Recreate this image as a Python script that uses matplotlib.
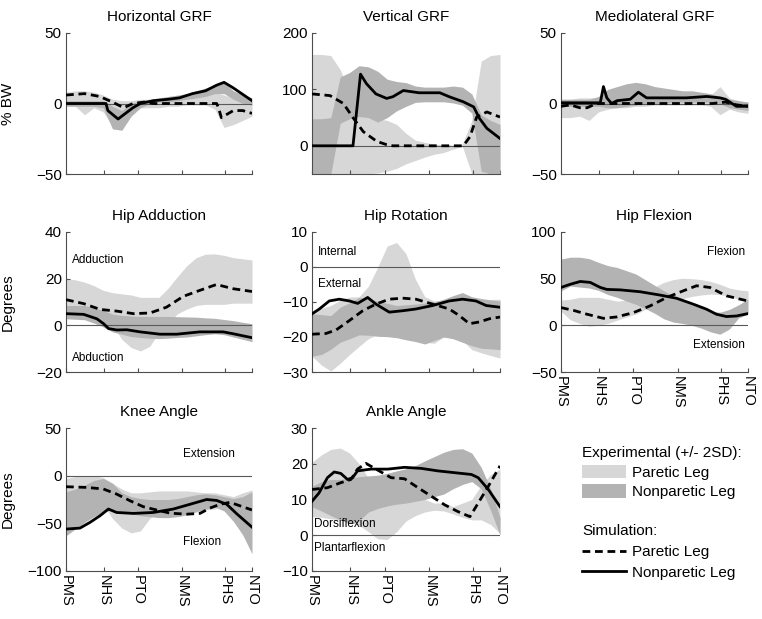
import numpy as np
import matplotlib
matplotlib.use('Agg')
import matplotlib.pyplot as plt
from matplotlib.patches import Patch
from matplotlib.lines import Line2D

plt.rcParams['font.family'] = ['Liberation Sans', 'DejaVu Sans']
plt.rcParams['font.size'] = 11

# gait events on the x axis (% of cycle)
event_pos = [0, 20.4, 38.7, 62.4, 85.6, 100]
event_labels = ['PMS', 'NHS', 'PTO', 'NMS', 'PHS', 'NTO']

# common grid for the experimental bands
pct = [0, 5, 10, 15, 20, 25, 30, 35, 40, 45, 50, 55, 60, 65, 70, 75, 80, 85, 90, 95, 100]

# ---- Horizontal GRF ----
hgrf_par_hi = [8, 9, 9, 8, 6, 3, 2, 2, 3, 3, 3, 3, 4, 5, 6, 8, 8, 6, 4, 3, 0]
hgrf_par_lo = [-1, -2, -8, -3, -6, -16, -14, -7, -3, -3, -3, -2, -2, -1, -1, -1, -4, -17, -15, -12, -9]
hgrf_non_hi = [2, 2, 2, 2, 2, -2, -5, 0, 2, 3, 4, 5, 6, 7, 9, 11, 13, 15, 9, 6, 4]
hgrf_non_lo = [-2, -2, -2, -2, -3, -18, -19, -9, -3, 0, 1, 1, 2, 3, 4, 5, 7, 7, 3, 0, -1]
hgrf_sim_par_x = [0, 10, 18, 25, 31, 36, 42, 47, 81, 82, 83.5, 90, 95, 100]
hgrf_sim_par = [6, 7, 5, 1, -3, 0, 1, 0, 0, -3, -10, -5, -5, -7]
hgrf_sim_non_x = [0, 21.5, 22.5, 28, 36, 40, 47, 55, 61, 68, 75, 81, 85, 90, 100]
hgrf_sim_non = [0, 0, -5, -11, -3, 0, 2, 3, 4, 7, 9, 13, 15, 11, 2]

# ---- Vertical GRF ----
vgrf_par_hi = [162, 162, 160, 135, 95, 75, 60, 48, 45, 38, 22, 10, 6, 3, 2, 1, 3, 45, 150, 160, 162]
vgrf_par_lo = [-50, -50, -50, -50, -50, -50, -50, -48, -45, -40, -32, -26, -20, -15, -12, -6, -1, -50, -50, -50, -50]
vgrf_non_hi = [48, 48, 50, 122, 130, 142, 140, 132, 118, 114, 112, 106, 104, 104, 104, 106, 104, 92, 55, 45, 38]
vgrf_non_lo = [-50, -50, -50, 40, 48, 52, 50, 42, 50, 62, 70, 77, 78, 78, 78, 76, 72, 58, -45, -50, -50]
vgrf_sim_par_x = [0, 9.6, 16.7, 22, 27.3, 34.4, 39.7, 43, 80.5, 84, 87.6, 93, 100]
vgrf_sim_par = [92, 89, 75, 49, 25, 8, 2, 0, 0, 16, 51, 60, 51]
vgrf_sim_non_x = [0, 21.8, 25.8, 29, 34, 39.7, 43, 48.6, 57, 68, 73, 80.5, 86, 89, 93, 100]
vgrf_sim_non = [0, 0, 127, 110, 92, 84, 87, 98, 94, 94, 87, 78, 69, 49, 31, 13]

# ---- Mediolateral GRF ----
mgrf_par_hi = [3, 3, 4, 4, 4, 4, 5, 7, 8, 8, 7, 6, 6, 6, 6, 6, 6, 12, 4, 2, 1]
mgrf_par_lo = [-10, -10, -9, -12, -6, -4, -3, -3, -2, -2, -1, -1, -1, -1, -1, -1, -2, -8, -4, -6, -7]
mgrf_non_hi = [3, 3, 3, 3, 5, 10, 12, 14, 15, 14, 12, 11, 10, 9, 9, 8, 7, 5, 3, 2, 1]
mgrf_non_lo = [-2, -2, -2, -2, -2, -3, -3, -2, -1, 0, 0, 0, 1, 1, 1, 1, 1, 0, -3, -4, -5]
mgrf_sim_par_x = [0, 5, 10, 14, 19, 81, 88, 94, 100]
mgrf_sim_par = [-2, -1, -3, -3, 0, 0, 1, -1, -2]
mgrf_sim_non_x = [0, 21, 22.7, 24.5, 27, 30, 37, 41.4, 45.8, 67, 78, 85, 88, 93.8, 100]
mgrf_sim_non = [0.5, 0.5, 12, 4, 0, 2, 3, 8, 4, 4, 5, 4, 3, -2, -2]

# ---- Hip Adduction ----
hadd_par_hi = [20, 19.5, 18.5, 17, 15, 14, 13.5, 13, 12, 12, 12, 16, 21, 25.6, 29, 30.5, 30.6, 30, 29, 28.5, 28]
hadd_par_lo = [5, 5, 6, 7, 5, 0, -6, -9.5, -11, -9, -3, 1, 5, 7, 8.5, 9, 9, 9, 9.5, 9.5, 9.5]
hadd_non_hi = [8.5, 8.5, 8.5, 7.5, 6.4, 4.8, 4.3, 4, 3.8, 3.8, 3.8, 3.8, 3.7, 3.6, 3.5, 3.2, 3, 2.5, 2, 1.3, 0.7]
hadd_non_lo = [2.8, 2.6, 2.4, 1, -0.7, -2.8, -3.8, -4.8, -5.2, -5.5, -5.7, -5.5, -5.2, -5, -4.5, -4, -3.6, -4, -5, -6, -7]
hadd_sim_par_x = [0, 9.5, 18.4, 27.3, 36.3, 45.2, 54.1, 63, 72, 80.9, 89.8, 100]
hadd_sim_par = [11, 9.3, 6.8, 6.1, 5, 5.3, 7.8, 12.4, 15, 17.5, 15.7, 14.5]
hadd_sim_non_x = [0, 9.5, 16.6, 20.2, 22.9, 27.3, 32.7, 39.8, 50.5, 59.5, 71.9, 84.5, 89.8, 100]
hadd_sim_non = [5, 4.7, 2.8, 0.7, -1.4, -2, -1.9, -2.8, -3.8, -3.8, -2.8, -2.8, -3.6, -5.3]

# ---- Hip Rotation ----
hrot_par_hi = [-12.5, -11.8, -11, -9.5, -8.6, -8.5, -5.5, 0, 6, 7, 3.8, -3.5, -8.5, -9.7, -9.5, -9, -7.8, -9, -9.5, -9.3, -9.2]
hrot_par_lo = [-25.5, -28, -29.7, -27.5, -25, -22.7, -20.5, -19.2, -19, -19.5, -20, -20.8, -21.5, -21.8, -20, -20, -21, -23.6, -24.5, -25.3, -26]
hrot_non_hi = [-13.4, -13.6, -13.9, -11.5, -10.2, -8.7, -9, -9.8, -10.4, -11, -10.8, -10.6, -10.3, -10, -9.2, -8.2, -7.3, -8.5, -9, -9.4, -9.7]
hrot_non_lo = [-25.5, -25, -23.5, -21.5, -20.5, -19.4, -19.5, -19.8, -19.9, -20.2, -20.8, -21.3, -22, -21, -20, -20.5, -21.5, -22.5, -23.2, -23.4, -23.6]
hrot_sim_par_x = [0, 7.4, 12.8, 19.9, 27, 34, 41.1, 48.2, 55.3, 64.2, 73, 78.4, 83.7, 89, 94.3, 100]
hrot_sim_par = [-19.2, -19, -18, -15.3, -12.5, -10.6, -9.2, -8.9, -9.2, -10.6, -12, -13.9, -16.2, -15.7, -14.8, -14.3]
hrot_sim_non_x = [0, 3.9, 9.2, 14.5, 19.9, 24.3, 29.6, 34, 41.1, 48.2, 55.3, 64.2, 73, 80.1, 87.2, 92.6, 100]
hrot_sim_non = [-13.4, -12, -9.7, -9.2, -9.7, -10.4, -8.7, -10.6, -12.9, -12.5, -12, -11, -9.7, -9.2, -9.7, -11, -11.5]

# ---- Hip Flexion ----
hflx_par_hi = [27, 28, 30, 30, 30, 28, 26, 27, 30, 35, 41, 46, 49, 50.5, 50, 49, 47, 44, 40, 38, 37]
hflx_par_lo = [15, 6, 2, -1, 0, 2, 5.5, 9, 12, 17, 20, 24, 26, 28.5, 31, 32.5, 33.5, 33, 31, 28, 26]
hflx_non_hi = [71, 73, 73, 71.5, 67.5, 64, 62, 58.5, 55, 49, 43, 37, 32, 26, 22, 19, 15, 14, 17, 22, 28]
hflx_non_lo = [37, 42, 41, 40, 37.5, 33, 30, 26, 22.5, 18, 13, 7, 3.5, 2, 0, -3, -7, -9.5, -4, 8, 12]
hflx_sim_par_x = [0, 6.7, 13.9, 22.7, 29.8, 38.7, 47.6, 56.5, 65.4, 72.5, 79.6, 88.5, 100]
hflx_sim_par = [19, 16, 11.9, 7.5, 9, 13.6, 20.8, 29.8, 37, 42.4, 40.6, 31.6, 26]
hflx_sim_non_x = [0, 5, 10.3, 15.6, 21, 24.5, 31.6, 42.3, 53, 61.8, 70.7, 77.8, 83.1, 88.5, 93.8, 100]
hflx_sim_non = [40.6, 44, 47, 46, 40.6, 38.5, 38, 36, 32.4, 29, 22.7, 17.3, 11.9, 9.4, 10, 12.6]

# ---- Knee Angle ----
knee_par_hi = [-3, -1, 0, 0, -2, -8, -14, -18, -18, -17, -16, -16, -16, -16, -17, -18, -18, -20, -22, -18, -15]
knee_par_lo = [-20, -20, -20, -22, -30, -45, -55, -60, -58, -45, -36, -33, -33, -34, -35, -36, -35, -32, -30, -32, -35]
knee_non_hi = [-17, -14, -10, -5, -3, -8, -18, -22, -24, -25, -25, -25, -24, -22, -20, -19, -20, -22, -24, -22, -17]
knee_non_lo = [-63, -56, -49, -43, -38, -36, -38, -40, -42, -43, -44, -44, -43, -41, -38, -35, -33, -37, -48, -62, -82]
knee_sim_par_x = [0, 11.1, 20.1, 27.2, 34.4, 41.6, 48.7, 55.9, 64.9, 72, 77.4, 82.8, 88.2, 93.5, 100]
knee_sim_par = [-11.6, -12.3, -14, -19.3, -26.3, -32.6, -36, -39.3, -40.4, -39.6, -34, -30, -28, -31.6, -36]
knee_sim_non_x = [0, 7.5, 12.9, 18.3, 22.8, 27.2, 36.2, 46.9, 57.7, 66.7, 75.6, 81, 86.4, 91.8, 100]
knee_sim_non = [-56, -55, -49, -42, -35, -38.6, -39.6, -38.6, -35, -30, -25, -26, -30, -40, -54]

# ---- Ankle Angle ----
ank_par_hi = [20.4, 22.5, 24, 24.4, 23, 20, 16, 15, 14, 13, 12, 11, 10, 9, 9, 8, 9, 10, 14, 17, 18.5]
ank_par_lo = [5.2, 5, 4.6, 4.3, 3.6, 2.8, 1, -1, -1.2, 1, 4, 5.5, 6.5, 7, 6.8, 6, 5, 4.3, 4.3, 3, 0.5]
ank_non_hi = [13.7, 15, 15.6, 15.6, 16, 16.4, 16.6, 16.8, 17.3, 18, 18.6, 19.5, 20.8, 22, 23.2, 24, 24.2, 23, 19, 13, 5]
ank_non_lo = [8, 6.8, 5.5, 4.3, 3.3, 4, 6.5, 7.5, 8.2, 8.7, 9, 9.5, 10, 10.8, 11.5, 13, 14.2, 15, 13, 7, 0]
ank_sim_par_x = [0, 8.2, 15.3, 20.7, 24.2, 28.7, 36.7, 42.1, 49.2, 56.4, 63.5, 70.6, 77.7, 84, 88.4, 93.8, 100]
ank_sim_par = [12.8, 13.3, 14.7, 15.6, 18.5, 20.1, 17.7, 16.1, 15.8, 13.3, 10.9, 8.5, 6.6, 5.2, 9, 13.7, 19.4]
ank_sim_non_x = [0, 3.7, 8.2, 11.8, 15.3, 18.9, 21.6, 24.2, 31.4, 40.3, 49.2, 58.1, 67, 75.9, 84.8, 88.4, 93.8, 100]
ank_sim_non = [9.5, 11.8, 16.1, 17.7, 17.3, 15.6, 16.1, 18, 18.5, 18.5, 19, 18.7, 18, 17.5, 17, 16.1, 12.8, 8]

LIGHT = '#d7d7d7'
DARK = '#b3b3b3'
DASH = (0, (2.8, 1.7))

W, H = 762, 619
fig = plt.figure(figsize=(W / 100, H / 100), dpi=100)


def px_rect(x0, x1, y0, y1):
    return [x0 / W, 1 - y1 / H, (x1 - x0) / W, (y1 - y0) / H]


cols = [(66, 252), (312, 500), (561, 748)]
rows = [(33, 174), (232, 372), (428, 571)]

panels = [
    ('Horizontal GRF', (-50, 50), [-50, 0, 50], '% BW',
     hgrf_par_hi, hgrf_par_lo, hgrf_non_hi, hgrf_non_lo,
     hgrf_sim_par_x, hgrf_sim_par, hgrf_sim_non_x, hgrf_sim_non),
    ('Vertical GRF', (-50, 200), [0, 100, 200], None,
     vgrf_par_hi, vgrf_par_lo, vgrf_non_hi, vgrf_non_lo,
     vgrf_sim_par_x, vgrf_sim_par, vgrf_sim_non_x, vgrf_sim_non),
    ('Mediolateral GRF', (-50, 50), [-50, 0, 50], None,
     mgrf_par_hi, mgrf_par_lo, mgrf_non_hi, mgrf_non_lo,
     mgrf_sim_par_x, mgrf_sim_par, mgrf_sim_non_x, mgrf_sim_non),
    ('Hip Adduction', (-20, 40), [-20, 0, 20, 40], 'Degrees',
     hadd_par_hi, hadd_par_lo, hadd_non_hi, hadd_non_lo,
     hadd_sim_par_x, hadd_sim_par, hadd_sim_non_x, hadd_sim_non),
    ('Hip Rotation', (-30, 10), [-30, -20, -10, 0, 10], None,
     hrot_par_hi, hrot_par_lo, hrot_non_hi, hrot_non_lo,
     hrot_sim_par_x, hrot_sim_par, hrot_sim_non_x, hrot_sim_non),
    ('Hip Flexion', (-50, 100), [-50, 0, 50, 100], None,
     hflx_par_hi, hflx_par_lo, hflx_non_hi, hflx_non_lo,
     hflx_sim_par_x, hflx_sim_par, hflx_sim_non_x, hflx_sim_non),
    ('Knee Angle', (-100, 50), [-100, -50, 0, 50], 'Degrees',
     knee_par_hi, knee_par_lo, knee_non_hi, knee_non_lo,
     knee_sim_par_x, knee_sim_par, knee_sim_non_x, knee_sim_non),
    ('Ankle Angle', (-10, 30), [-10, 0, 10, 20, 30], None,
     ank_par_hi, ank_par_lo, ank_non_hi, ank_non_lo,
     ank_sim_par_x, ank_sim_par, ank_sim_non_x, ank_sim_non),
]

axes = []
for i, p in enumerate(panels):
    (title, ylim, yticks, ylabel, phi, plo, nhi, nlo, spx, sp, snx, sn) = p
    r, c = divmod(i, 3)
    ax = fig.add_axes(px_rect(cols[c][0], cols[c][1], rows[r][0], rows[r][1]))
    ax.fill_between(pct, plo, phi, color=LIGHT, lw=0, zorder=1)
    ax.fill_between(pct, nlo, nhi, color=DARK, lw=0, zorder=2)
    ax.axhline(0, color='0.35', lw=0.8, zorder=3)
    ax.plot(spx, sp, color='black', lw=2.0, ls=DASH, zorder=4)
    ax.plot(snx, sn, color='black', lw=2.0, zorder=5)
    ax.set_xlim(0, 100)
    ax.set_ylim(*ylim)
    ax.set_yticks(yticks)
    ax.set_xticks(event_pos)
    if r == 2 or i == 5:
        ax.set_xticklabels(event_labels, rotation=270, fontsize=10.5)
    else:
        ax.set_xticklabels([])
    ax.tick_params(direction='in', length=3, width=0.8, color='0.3', labelsize=11, pad=3)
    ax.tick_params(axis='x', labelsize=10.5)
    for s in ['top', 'right']:
        ax.spines[s].set_visible(False)
    for s in ['left', 'bottom']:
        ax.spines[s].set_color('0.3')
        ax.spines[s].set_linewidth(0.8)
    ax.set_title(title, fontsize=11, pad=8.5)
    if ylabel:
        ax.set_ylabel(ylabel, fontsize=11)
        ax.yaxis.set_label_coords(-0.275, 0.5)
    axes.append(ax)

# region annotations
ann = 8.5
axes[3].text(0.03, 0.8, 'Adduction', transform=axes[3].transAxes, fontsize=ann, va='center')
axes[3].text(0.03, 0.1, 'Abduction', transform=axes[3].transAxes, fontsize=ann, va='center')
axes[4].text(0.03, 0.86, 'Internal', transform=axes[4].transAxes, fontsize=ann, va='center')
axes[4].text(0.03, 0.63, 'External', transform=axes[4].transAxes, fontsize=ann, va='center')
axes[5].text(0.985, 0.86, 'Flexion', transform=axes[5].transAxes, fontsize=ann, va='center', ha='right')
axes[5].text(0.985, 0.19, 'Extension', transform=axes[5].transAxes, fontsize=ann, va='center', ha='right')
axes[6].text(0.63, 0.82, 'Extension', transform=axes[6].transAxes, fontsize=ann, va='center')
axes[6].text(0.63, 0.2, 'Flexion', transform=axes[6].transAxes, fontsize=ann, va='center')
axes[7].text(0.01, 0.33, 'Dorsiflexion', transform=axes[7].transAxes, fontsize=ann, va='center')
axes[7].text(0.01, 0.16, 'Plantarflexion', transform=axes[7].transAxes, fontsize=ann, va='center')

# legends
exp_handles = [Patch(facecolor=LIGHT, edgecolor='none', label='Paretic Leg'),
               Patch(facecolor=DARK, edgecolor='none', label='Nonparetic Leg')]
sim_handles = [Line2D([], [], color='black', lw=2.0, ls=DASH, label='Paretic Leg'),
               Line2D([], [], color='black', lw=2.0, label='Nonparetic Leg')]
fig.legend(handles=exp_handles, title='Experimental (+/- 2SD):', loc='upper left',
           bbox_to_anchor=(582 / W, 1 - 446 / H), frameon=False, fontsize=11,
           title_fontsize=11, alignment='left', handlelength=2.9, handleheight=1.0,
           handletextpad=0.35, labelspacing=0.3, borderpad=0, borderaxespad=0)
fig.legend(handles=sim_handles, title='Simulation:', loc='upper left',
           bbox_to_anchor=(582 / W, 1 - 524 / H), frameon=False, fontsize=11,
           title_fontsize=11, alignment='left', handlelength=2.9,
           handletextpad=0.35, labelspacing=0.45, borderpad=0, borderaxespad=0)

fig.savefig('out.png', dpi=100)
